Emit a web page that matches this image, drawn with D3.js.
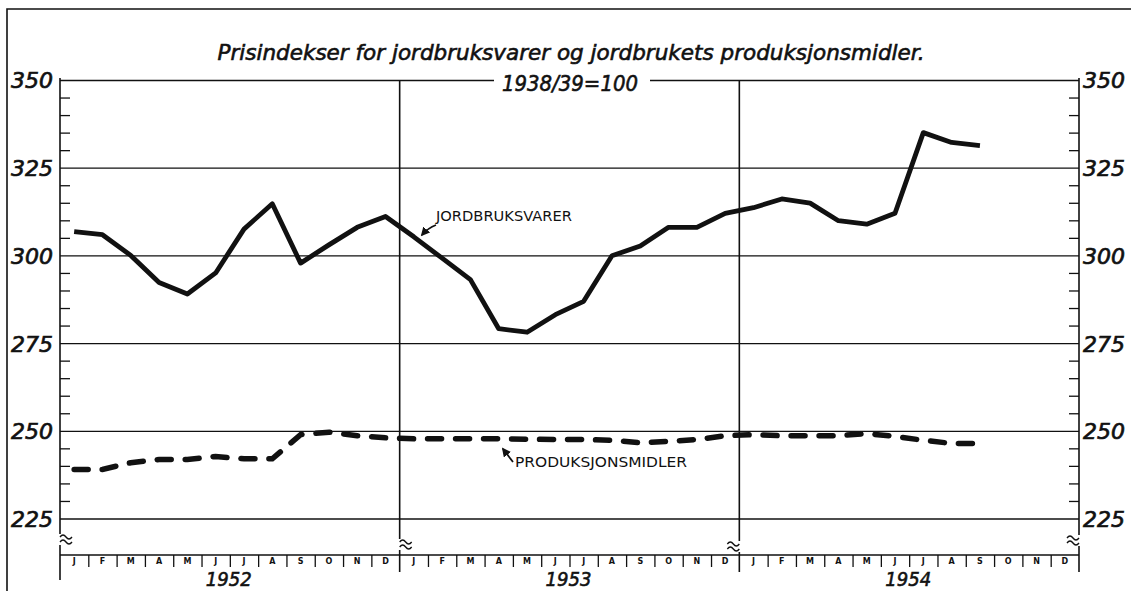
<!DOCTYPE html>
<meta charset="utf-8">
<style>
  body { margin: 0; background: #fff; }
  svg text { font-family: "DejaVu Sans", sans-serif; fill: #111; }
</style>
<body>
<div id="chart"></div>
<script src="https://cdn.jsdelivr.net/npm/d3@7"></script>
<script>
// month letters, years, series (monthly index, 1938/39 = 100)
const monthLetters = ["J","F","M","A","M","J","J","A","S","O","N","D"];
const years = ["1952", "1953", "1954"];
const yMajor = [225, 250, 275, 300, 325, 350];
const yMinor = d3.range(225, 351, 5).filter(v => v % 25 !== 0);

const jordbruksvarer = [306.8, 305.9, 300.0, 292.3, 289.0, 295.0, 307.5, 314.7, 297.8, 303.0, 308.0, 311.1,
    305.3, 299.2, 293.1, 279.1, 278.1, 283.1, 286.9, 299.9, 302.7, 308.0, 308.0, 312.0,
    313.6, 316.1, 314.9, 309.9, 308.9, 312.0, 335.0, 332.2, 331.3];
const produksjonsmidler = [239.0, 239.0, 240.9, 241.8, 241.8, 242.7, 242.0, 242.0, 248.9, 249.6, 248.6, 248.0,
    247.7, 247.7, 247.7, 247.7, 247.6, 247.5, 247.5, 247.3, 246.6, 247.0, 247.5, 248.6,
    248.9, 248.6, 248.6, 248.6, 249.2, 248.4, 247.3, 246.4, 246.4];

const width = 1131, height = 591;
const plotLeft = 60, plotRight = 1079, plotTop = 80, plotBottom = 518.5, axisY = 555;
const ink = "#111";

const svg = d3.select("#chart").append("svg")
    .attr("width", width)
    .attr("height", height);

const x = d3.scaleLinear().domain([0, 36]).range([plotLeft, plotRight]);
const y = d3.scaleLinear().domain([225, 350]).range([plotBottom, plotTop]);

// outer frame (top and left edges show in the scan)
svg.append("path")
    .attr("d", `M7,${height} L7,9 L${width},9`)
    .style("fill", "none").style("stroke", ink).style("stroke-width", 1.6);

// horizontal grid
const grid = svg.append("g").attr("transform", `translate(${plotLeft},0)`)
    .call(d3.axisRight(y).tickValues(yMajor).tickSize(plotRight - plotLeft).tickFormat(""));
grid.select(".domain").remove();
grid.selectAll("line").style("stroke", ink).style("stroke-width", 1.3);

// minor ticks, left and right
const minL = svg.append("g").attr("transform", `translate(${plotLeft},0)`)
    .call(d3.axisRight(y).tickValues(yMinor).tickSize(10).tickFormat(""));
const minR = svg.append("g").attr("transform", `translate(${plotRight},0)`)
    .call(d3.axisLeft(y).tickValues(yMinor).tickSize(10).tickFormat(""));
[minL, minR].forEach(g => {
    g.select(".domain").remove();
    g.selectAll("line").style("stroke", ink).style("stroke-width", 1.3);
});

// tick labels
const labL = svg.append("g").attr("transform", `translate(${plotLeft},0)`)
    .call(d3.axisLeft(y).tickValues(yMajor).tickSize(0).tickPadding(7));
const labR = svg.append("g").attr("transform", `translate(${plotRight},0)`)
    .call(d3.axisRight(y).tickValues(yMajor).tickSize(0).tickPadding(4));
[labL, labR].forEach(g => {
    g.select(".domain").remove();
    g.selectAll("text")
        .attr("dy", "0.36em")
        .style("font-family", "DejaVu Sans")
        .style("font-style", "italic")
        .style("font-size", "22px")
        .style("fill", ink)
        .style("stroke", ink)
        .style("stroke-width", 0.7);
});

// vertical lines with a break symbol near the bottom
function brokenLine(xp, y0, y1, breakY, side) {
    const g = svg.append("g");
    g.append("line").attr("x1", xp).attr("x2", xp).attr("y1", y0).attr("y2", breakY - 5)
        .style("stroke", ink).style("stroke-width", 1.6);
    g.append("line").attr("x1", xp).attr("x2", xp).attr("y1", breakY + 6).attr("y2", y1)
        .style("stroke", ink).style("stroke-width", 1.6);
    const x0 = side > 0 ? xp : xp - 12;
    [breakY - 2, breakY + 3].forEach(by => {
        g.append("path")
            .attr("d", `M${x0},${by} q3,-4 6,0 t6,0`)
            .style("fill", "none").style("stroke", ink).style("stroke-width", 1.3);
    });
}
brokenLine(plotLeft, plotTop - 2, 580, 539, 1);
brokenLine(plotRight, plotTop - 2, 572, 540, -1);
brokenLine(x(12), plotTop, 572, 544, 1);
brokenLine(x(24), plotTop, 572, 546, -1);

// month axis
svg.append("line")
    .attr("x1", plotLeft).attr("x2", plotRight).attr("y1", axisY).attr("y2", axisY)
    .style("stroke", ink).style("stroke-width", 1.6);

const sep = svg.append("g").attr("transform", `translate(0,${axisY})`)
    .call(d3.axisBottom(x).tickValues(d3.range(1, 36).filter(i => i % 12 !== 0)).tickSize(12).tickFormat(""));
sep.select(".domain").remove();
sep.selectAll("line").style("stroke", ink).style("stroke-width", 1.3);

const monthIdx = d3.range(36);
svg.append("g").selectAll("text")
    .data(monthIdx)
    .join("text")
    .attr("x", d => x(d + 0.5))
    .attr("y", axisY + 9)
    .attr("text-anchor", "middle")
    .style("font-size", "8px")
    .style("font-weight", "bold")
    .text(d => monthLetters[d % 12]);

svg.append("g").selectAll("text")
    .data(years)
    .join("text")
    .attr("x", (d, i) => x(i * 12 + 6) - 1)
    .attr("y", 586)
    .attr("text-anchor", "middle")
    .attr("textLength", 46)
    .attr("lengthAdjust", "spacingAndGlyphs")
    .style("font-style", "italic")
    .style("font-size", "20px")
    .style("stroke", ink)
    .style("stroke-width", 0.6)
    .text(d => d);

// title
svg.append("text")
    .attr("x", 571).attr("y", 60)
    .attr("text-anchor", "middle")
    .attr("textLength", 707)
    .attr("lengthAdjust", "spacingAndGlyphs")
    .style("font-style", "italic")
    .style("font-size", "21px")
    .style("stroke", ink)
    .style("stroke-width", 0.6)
    .text("Prisindekser for jordbruksvarer og jordbrukets produksjonsmidler.");

svg.append("rect")
    .attr("x", 494).attr("y", 74).attr("width", 156).attr("height", 14)
    .style("fill", "#fff");
svg.append("text")
    .attr("x", 570).attr("y", 91)
    .attr("text-anchor", "middle")
    .attr("textLength", 136)
    .attr("lengthAdjust", "spacingAndGlyphs")
    .style("font-style", "italic")
    .style("font-size", "22px")
    .style("stroke", ink)
    .style("stroke-width", 0.6)
    .text("1938/39=100");

// series
const line = d3.line()
    .x((d, i) => x(i + 0.5))
    .y(d => y(d));

svg.append("path")
    .datum(jordbruksvarer)
    .attr("d", line)
    .style("fill", "none")
    .style("stroke", ink)
    .style("stroke-width", 4.8)
    .style("stroke-linejoin", "round");

svg.append("path")
    .datum(produksjonsmidler)
    .attr("d", line)
    .style("fill", "none")
    .style("stroke", ink)
    .style("stroke-width", 5.5)
    .style("stroke-linecap", "round")
    .style("stroke-dasharray", "14,14");

// series labels with arrows
svg.append("defs").append("marker")
    .attr("id", "head")
    .attr("viewBox", "0 0 10 10")
    .attr("refX", 8).attr("refY", 5)
    .attr("markerWidth", 5).attr("markerHeight", 5)
    .attr("orient", "auto")
    .append("path").attr("d", "M0,0 L10,5 L0,10 z").style("fill", ink);

svg.append("text")
    .attr("x", 436).attr("y", 221)
    .attr("textLength", 136)
    .attr("lengthAdjust", "spacingAndGlyphs")
    .style("font-size", "14px")
    .text("JORDBRUKSVARER");
svg.append("path")
    .attr("d", "M436,225 Q428,228 422,235")
    .attr("marker-end", "url(#head)")
    .style("fill", "none").style("stroke", ink).style("stroke-width", 1.8);

svg.append("text")
    .attr("x", 515).attr("y", 467)
    .attr("textLength", 172)
    .attr("lengthAdjust", "spacingAndGlyphs")
    .style("font-size", "14px")
    .text("PRODUKSJONSMIDLER");
svg.append("path")
    .attr("d", "M513,462 L503,449")
    .attr("marker-end", "url(#head)")
    .style("fill", "none").style("stroke", ink).style("stroke-width", 1.8);
</script>
</body>
